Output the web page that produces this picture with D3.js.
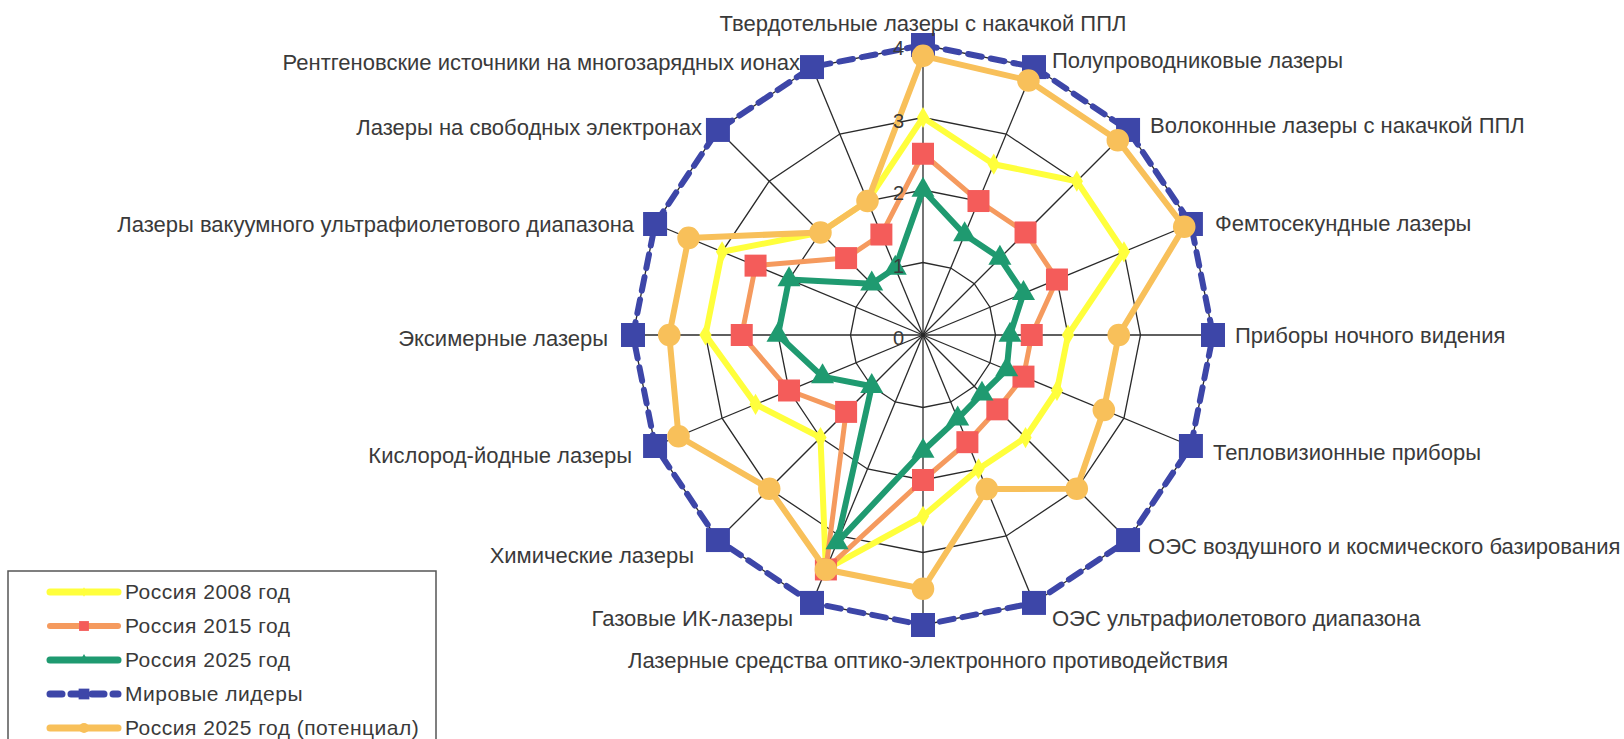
<!DOCTYPE html>
<html>
<head>
<meta charset="utf-8">
<script src="https://cdn.jsdelivr.net/npm/d3@7"></script>
<style>
  body { margin: 0; background: #ffffff; }
  svg { display: block; }
  text { font-family: "Liberation Sans", Arial, sans-serif; fill: #3a3a3a; }
</style>
</head>
<body>
<div id="vis"></div>
<script>
// frame
const FRAME_WIDTH = 1624;
const FRAME_HEIGHT = 739;
const CENTER = {x: 923, y: 335};
const RADIUS = 290;

// data
const categories = [
  "Твердотельные лазеры с накачкой ППЛ",
  "Полупроводниковые лазеры",
  "Волоконные лазеры с накачкой ППЛ",
  "Фемтосекундные лазеры",
  "Приборы ночного видения",
  "Тепловизионные приборы",
  "ОЭС воздушного и космического базирования",
  "ОЭС ультрафиолетового диапазона",
  "Лазерные средства оптико-электронного противодействия",
  "Газовые ИК-лазеры",
  "Химические лазеры",
  "Кислород-йодные лазеры",
  "Эксимерные лазеры",
  "Лазеры вакуумного ультрафиолетового диапазона",
  "Лазеры на свободных электронах",
  "Рентгеновские источники на многозарядных ионах"
];
const russia2008 = [3, 2.55, 3, 3, 2, 2, 2, 2, 2.5, 3.5, 2, 2.5, 3, 3, 2, 2];
const russia2015 = [2.5, 2, 2, 2, 1.5, 1.5, 1.45, 1.6, 2, 3.5, 1.5, 2, 2.5, 2.5, 1.5, 1.5];
const russia2025 = [2, 1.5, 1.5, 1.5, 1.2, 1.25, 1.15, 1.25, 1.6, 3.1, 1, 1.5, 2, 2, 1, 1];
const worldLeaders = [4, 4, 4, 4, 4, 4, 4, 4, 4, 4, 4, 4, 4, 4, 4, 4];
const potential2025 = [3.85, 3.8, 3.8, 3.9, 2.7, 2.7, 3, 2.3, 3.5, 3.5, 3, 3.65, 3.5, 3.5, 2, 2];
const seriesNames = ["Россия 2008 год", "Россия 2015 год", "Россия 2025 год",
                     "Мировые лидеры", "Россия 2025 год (потенциал)"];
const tickValues = [0, 1, 2, 3, 4];

// series styles (drawing order = legend order)
const series = [
  {name: seriesNames[0], values: russia2008, line: "#ffff3c", fill: "#ffff3c", symbol: d3.symbolDiamond, size: 130, width: 6},
  {name: seriesNames[1], values: russia2015, line: "#f59a5e", fill: "#f45c5a", symbol: d3.symbolSquare, size: 484, width: 5},
  {name: seriesNames[2], values: russia2025, line: "#1f9a70", fill: "#1f9a70", symbol: d3.symbolTriangle, size: 230, width: 6},
  {name: seriesNames[3], values: worldLeaders, line: "#3d46a8", fill: "#3d46a8", symbol: d3.symbolSquare, size: 576, width: 6, dash: "14,9"},
  {name: seriesNames[4], values: potential2025, line: "#f8c05a", fill: "#f8c05a", symbol: d3.symbolCircle, size: 400, width: 6}
];

const N = categories.length;
const STEP = 2 * Math.PI / N;

const R_SCALE = d3.scaleLinear().domain([0, 4]).range([0, RADIUS]);

const FRAME = d3.select("#vis").append("svg")
  .attr("width", FRAME_WIDTH)
  .attr("height", FRAME_HEIGHT);

const G = FRAME.append("g")
  .attr("transform", "translate(" + CENTER.x + "," + CENTER.y + ")");

// grid rings (polygons)
const ringLine = d3.lineRadial()
  .angle((d, i) => i * STEP)
  .radius(d => R_SCALE(d))
  .curve(d3.curveLinearClosed);

tickValues.filter(t => t > 0).forEach(t => {
  G.append("path")
    .attr("d", ringLine(d3.range(N).map(() => t)))
    .attr("fill", "none")
    .attr("stroke", "#2a2a2a")
    .attr("stroke-width", 1.3);
});

// spokes
G.selectAll(".spoke")
  .data(categories)
  .enter()
  .append("line")
    .attr("x1", 0).attr("y1", 0)
    .attr("x2", (d, i) => d3.pointRadial(i * STEP, R_SCALE(4))[0])
    .attr("y2", (d, i) => d3.pointRadial(i * STEP, R_SCALE(4))[1])
    .attr("stroke", "#2a2a2a")
    .attr("stroke-width", 1.3);

// series lines and markers
const seriesLine = d3.lineRadial()
  .angle((d, i) => i * STEP)
  .radius(d => R_SCALE(d))
  .curve(d3.curveLinearClosed);

series.forEach(s => {
  G.append("path")
    .attr("d", seriesLine(s.values))
    .attr("fill", "none")
    .attr("stroke", s.line)
    .attr("stroke-width", s.width)
    .attr("stroke-linejoin", "round")
    .attr("stroke-linecap", s.dash ? "round" : "butt")
    .attr("stroke-dasharray", s.dash || null);

  G.selectAll(null)
    .data(s.values)
    .enter()
    .append("path")
      .attr("d", d3.symbol().type(s.symbol).size(s.size))
      .attr("transform", (d, i) => {
        const p = d3.pointRadial(i * STEP, R_SCALE(d));
        return "translate(" + p[0] + "," + p[1] + ")";
      })
      .attr("fill", s.fill);
});

// tick labels along the top spoke (on top of the lines)
G.selectAll(".tick")
  .data(tickValues)
  .enter()
  .append("text")
    .attr("x", -19)
    .attr("y", d => -R_SCALE(d) + 3)
    .attr("dy", "0.35em")
    .attr("text-anchor", "end")
    .attr("font-size", "20px")
    .text(d => d);

// category labels, placed just outside the outer ring
const labelNudge = [
  [0, -22], [18, -7], [22, -5], [24, -1], [22, 0], [22, 6], [20, 6], [18, 15],
  [5, 35], [-19, 15], [-24, 15], [-23, 9], [-25, 3], [-21, 0], [-16, -3], [-12, -5]
];

G.selectAll(".cat")
  .data(categories)
  .enter()
  .append("text")
    .attr("x", (d, i) => d3.pointRadial(i * STEP, R_SCALE(4))[0] + labelNudge[i][0])
    .attr("y", (d, i) => d3.pointRadial(i * STEP, R_SCALE(4))[1] + labelNudge[i][1])
    .attr("dy", "0.35em")
    .attr("text-anchor", (d, i) => (i === 0 || i === N / 2) ? "middle" : (i < N / 2 ? "start" : "end"))
    .attr("font-size", "22px")
    .text(d => d);

// legend
const LEGEND = FRAME.append("g").attr("transform", "translate(8,571)");
LEGEND.append("rect")
  .attr("x", 0).attr("y", 0)
  .attr("width", 428).attr("height", 200)
  .attr("fill", "#ffffff")
  .attr("stroke", "#555555")
  .attr("stroke-width", 1.5);

const ROW = LEGEND.selectAll(".row")
  .data(series)
  .enter()
  .append("g")
    .attr("transform", (d, i) => "translate(0," + (21 + i * 34) + ")");

ROW.append("line")
  .attr("x1", 42).attr("x2", 110)
  .attr("y1", 0).attr("y2", 0)
  .attr("stroke", d => d.line)
  .attr("stroke-width", d => d.width + 1)
  .attr("stroke-linecap", "round")
  .attr("stroke-dasharray", d => d.dash ? "12,9" : null);

ROW.append("path")
  .attr("d", d => d3.symbol().type(d.symbol).size(d.size * 0.2)())
  .attr("transform", "translate(76,0)")
  .attr("fill", d => d.fill);

ROW.append("text")
  .attr("x", 117)
  .attr("y", 0)
  .attr("dy", "0.35em")
  .attr("font-size", "21px")
  .attr("letter-spacing", "0.5px")
  .text(d => d.name);
</script>
</body>
</html>
